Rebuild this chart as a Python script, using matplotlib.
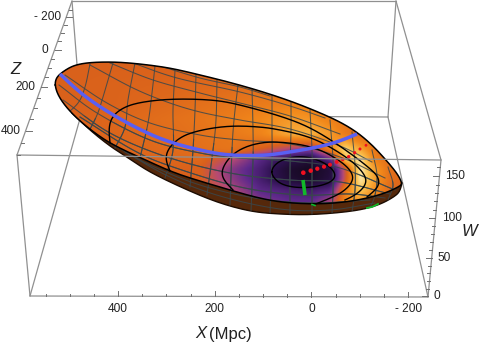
import numpy as np
import matplotlib
matplotlib.use("Agg")
import matplotlib.pyplot as plt
from matplotlib.colors import LinearSegmentedColormap
from matplotlib.patches import Polygon

plt.rcParams['font.family'] = ['Liberation Sans', 'DejaVu Sans']

# Everything below was read off the picture, the chart is a fixed 3D view so
# curves are kept as they appear on screen (x right, y down, in pixels).

# box
box_top_back = [(72, 1), (396, 1)]
box_top_front = [(17, 155), (441, 160)]
box_bot_back = [(81, 115), (388, 117)]
box_bot_front = [(30, 296), (428, 297)]

# axis ticks
x_major = [400, 200, 0, -200]
x_minor = [550, 500, 450, 350, 300, 250, 150, 100, 50, -50, -100, -150]
x_major_px = [118, 215, 311.5, 408]
z_major = [-200, 0, 200, 400]
z_minor = [-250, -150, -100, -50, 50, 100, 150, 250, 300, 350, 450, 500]
z_major_py = [17, 50, 87, 131]
w_major = [0, 50, 100, 150]
w_minor = [10, 20, 30, 40, 60, 70, 80, 90, 110, 120, 130, 140, 160]
w_major_py = [296, 258, 218, 176]

# surface outline
rim_top_x = [55, 56, 60, 68, 76, 90, 115, 140, 170, 200, 240, 285, 318, 340, 358, 373, 385, 396, 402]
rim_top_y = [85, 79, 74, 68.5, 65, 62.5, 62, 64, 68, 75, 85, 99, 112, 122, 133, 146, 159, 172, 183]
rim_low_x = [402, 398, 380, 347, 313, 280, 255, 230, 193, 170, 150, 130, 110, 95, 80, 67, 58, 55]
rim_low_y = [183, 187, 195, 202, 204, 202, 197, 190, 179, 171, 162, 153, 143, 133, 121, 108, 95, 85]
band_x = [402, 400, 395, 378, 353, 313, 280, 250, 217, 183, 150, 130, 110, 90, 72]
band_y = [183, 190, 196, 205, 211, 214.5, 214, 211, 202, 188, 172, 159, 146, 130, 113]

# height contours
c1_x = [270, 279, 302, 325, 336, 327, 303, 280]
c1_y = [172, 161, 156, 163, 175, 184, 188, 184]
c2_x = [233, 224, 222, 230, 243, 260, 280, 313, 337, 350, 353, 345, 333, 313]
c2_y = [190, 180, 170, 157, 148, 143, 142, 147, 159, 170, 180, 190, 197, 205]
c3_x = [170, 166, 168, 177, 193, 227, 260, 280, 313, 343, 358, 366, 364, 355, 345]
c3_y = [171, 160, 150, 140, 132, 126, 127, 130, 138, 155, 167, 178, 187, 195, 200]
c4_x = [110, 109, 113, 125, 143, 173, 213, 240, 280, 313, 347, 368, 378, 378, 367]
c4_y = [143, 128, 116, 107, 102, 99, 100, 105, 116, 129, 151, 167, 177, 187, 197]

# blue curve, red and green points
blue_x = [60, 83, 113, 147, 173, 200, 227, 260, 280, 313, 337, 357]
blue_y = [74, 95, 115, 133, 143, 150, 155, 155.5, 153.5, 148, 142, 134]
red_x = [303.3, 310.7, 317.3, 324, 330, 336.7, 342.7, 348.7, 354.7, 360, 366]
red_y = [172.7, 170.7, 168.7, 166.7, 164.7, 162, 159.3, 156.7, 152.7, 149, 145.3]
green_x = [303, 305]
green_y = [180, 195]
green2_x = [367, 372, 378]
green2_y = [208, 207, 204]
green3_x = [312, 315]
green3_y = [204.5, 205.5]

# mesh lines, near vertical family
mesh_a = [
    [(90, 64), (85, 87), (78, 103), (63, 117)],
    [(113, 63), (103, 97), (97, 115), (87, 135)],
    [(135, 63), (128, 100), (125, 127), (115, 148)],
    [(155, 66), (152, 93), (148, 123), (140, 158)],
    [(175, 70), (173, 110), (173, 150), (165, 178)],
    [(196, 74), (195, 110), (193, 150), (190, 187)],
    [(217, 80), (216, 120), (213, 150), (207, 195)],
    [(238, 85), (234, 120), (232, 150), (230, 205)],
    [(252, 88), (253, 130), (253, 160), (251, 212)],
    [(272, 94), (272, 130), (272, 160), (270, 214)],
    [(291, 102), (291, 130), (290, 170), (290, 215)],
    [(310, 110), (312, 150), (312, 175), (312, 215)],
    [(330, 120), (333, 160), (333, 190), (332, 214)],
    [(352, 132), (355, 165), (355, 190), (352, 212)],
    [(372, 150), (377, 175), (375, 195), (370, 208)],
    [(388, 167), (393, 185), (388, 200)],
]
# mesh lines, slanted family
mesh_b = [
    [(157, 65), (200, 78), (240, 87), (270, 96)],
    [(133, 63), (177, 78), (240, 92), (290, 106), (325, 118)],
    [(110, 63), (153, 80), (200, 93), (240, 103), (290, 116), (340, 134)],
    [(90, 65), (133, 88), (167, 102), (200, 112), (240, 120), (290, 129), (340, 146), (372, 162)],
    [(65, 75), (107, 103), (150, 123), (200, 135), (240, 140), (290, 144), (340, 157), (385, 178)],
    [(59, 85), (97, 113), (150, 140), (200, 153), (240, 158), (290, 161), (340, 168), (395, 190)],
    [(63, 100), (110, 133), (167, 157), (230, 173), (290, 180), (340, 182), (390, 194)],
    [(80, 117), (133, 150), (173, 167), (240, 187), (300, 195), (350, 194), (385, 198)],
    [(110, 143), (150, 165), (200, 185), (255, 198), (310, 203), (370, 200)],
    [(125, 152), (170, 177), (220, 196), (280, 209), (330, 210), (375, 203)],
]

# colour level of the surface sampled on a coarse screen grid
field_x = [50, 110, 170, 200, 230, 260, 290, 310, 330, 345, 360, 375, 390, 410]
field_y = [60, 85, 105, 120, 135, 150, 160, 170, 180, 190, 200, 215]
field = [
    [.60, .60, .60, .60, .60, .60, .60, .60, .60, .60, .60, .60, .60, .60],
    [.60, .61, .62, .63, .64, .65, .66, .66, .64, .62, .60, .60, .60, .60],
    [.60, .61, .64, .66, .68, .70, .72, .72, .68, .64, .62, .60, .60, .60],
    [.60, .62, .66, .68, .71, .75, .79, .78, .72, .68, .64, .62, .60, .60],
    [.60, .62, .65, .67, .69, .73, .84, .86, .80, .70, .64, .62, .60, .60],
    [.60, .62, .64, .66, .68, .60, .48, .44, .74, .96, .82, .68, .62, .60],
    [.60, .60, .62, .63, .52, .33, .18, .12, .35, .90, .98, .72, .64, .60],
    [.60, .60, .61, .60, .42, .28, .08, .03, .12, .56, 1.0, .80, .66, .60],
    [.60, .60, .60, .60, .44, .28, .10, .05, .14, .56, 1.0, .80, .66, .60],
    [.60, .60, .60, .60, .50, .33, .28, .25, .30, .72, .92, .76, .64, .60],
    [.60, .60, .60, .60, .54, .40, .34, .33, .45, .74, .80, .72, .62, .60],
    [.60, .60, .60, .60, .55, .45, .40, .42, .55, .72, .76, .70, .60, .60],
]

EDGE = '#909090'
TICK = '#707070'
TXT = '#222222'
surf_cmap = LinearSegmentedColormap.from_list('surf', [
    (0.0, '#120818'), (0.2, '#2e1250'), (0.35, '#5f2a8c'), (0.5, '#b54a74'),
    (0.6, '#d9601c'), (0.75, '#f2881a'), (0.9, '#fbc350'), (1.0, '#fdeab0')])


def soften(path, win, closed=False):
    # moving average along the curve to take out reading wobble
    if win < 3:
        return path
    kernel = np.hanning(win + 2)[1:-1]
    kernel /= kernel.sum()
    k = win // 2
    out = []
    for j in range(2):
        c = path[:, j]
        if closed:
            padded = np.r_[c[-k:], c, c[:k]]
        else:
            padded = np.r_[2 * c[0] - c[k:0:-1], c, 2 * c[-1] - c[-2:-k - 2:-1]]
        out.append(np.convolve(padded, kernel, mode='valid'))
    return np.column_stack(out)


def smooth(pts, n=12):
    # catmull-rom through the read points
    pts = np.array(pts, dtype=float)
    p = np.vstack([2 * pts[0] - pts[1], pts, 2 * pts[-1] - pts[-2]])
    out = []
    for i in range(1, len(p) - 2):
        t = np.linspace(0, 1, n, endpoint=False)[:, None]
        a, b, c, d = p[i - 1], p[i], p[i + 1], p[i + 2]
        out.append(0.5 * (2 * b + (c - a) * t + (2 * a - 5 * b + 4 * c - d) * t ** 2
                          + (3 * b - a - 3 * c + d) * t ** 3))
    out.append(pts[-1:])
    return np.vstack(out)


def curve(xs, ys, win=21):
    return soften(smooth(list(zip(xs, ys))), win)


def upsample(xs, ys, values):
    # fine grid for the colour field, one value per pixel
    gx, gy = np.arange(0, 480), np.arange(0, 345)
    vals = np.array(values)
    rows = np.array([np.interp(gx, xs, r) for r in vals])
    fine = np.array([np.interp(gy, ys, rows[:, j]) for j in range(len(gx))]).T
    # blur a little, the coarse cells should not show
    kx = np.hanning(9) / np.hanning(9).sum()
    ky = np.hanning(9) / np.hanning(9).sum()
    fine = np.apply_along_axis(lambda r: np.convolve(np.pad(r, 4, mode='edge'), kx, mode='valid'), 1, fine)
    fine = np.apply_along_axis(lambda r: np.convolve(np.pad(r, 4, mode='edge'), ky, mode='valid'), 0, fine)
    return fine


fig = plt.figure(figsize=(4.8, 3.45), dpi=100)
ax = fig.add_axes([0, 0, 1, 1])
ax.set_xlim(0, 480)
ax.set_ylim(345, 0)
ax.axis('off')


def edge(a, b, z=1):
    ax.plot([a[0], b[0]], [a[1], b[1]], color=EDGE, lw=0.9, zorder=z, solid_capstyle='round')


# back of the box
edge(box_top_back[0], box_top_back[1])
edge(box_top_back[0], box_bot_back[0])
edge(box_top_back[1], box_bot_back[1])
edge(box_bot_back[0], box_bot_back[1])
edge(box_bot_back[0], box_bot_front[0])
edge(box_bot_back[1], box_bot_front[1])

# surface
rim_pts = np.array(list(zip(rim_top_x, rim_top_y)) + list(zip(rim_low_x, rim_low_y))[1:-1], dtype=float)
rim = soften(smooth(np.vstack([rim_pts, rim_pts[:1]]), n=8), 15, closed=True)
band = curve(band_x, band_y, 15)

ax.add_patch(Polygon(band, closed=True, fc='#55280b', ec='none', zorder=2))
ax.add_patch(Polygon(rim, closed=True, fc='#55280b', ec='none', zorder=2))
ax.plot(band[:, 0], band[:, 1], color='#1c0c02', lw=1.0, zorder=2.1)

img = ax.imshow(upsample(field_x, field_y, field), extent=(-0.5, 479.5, 344.5, -0.5),
                cmap=surf_cmap, vmin=0, vmax=1, interpolation='bilinear', aspect='auto', zorder=3)
img.set_clip_path(Polygon(rim, closed=True, transform=ax.transData))
ax.set_xlim(0, 480)
ax.set_ylim(345, 0)

# mesh, drawn once over the top face and once over the brown band
clip_rim = Polygon(rim, closed=True, transform=ax.transData)
clip_band = Polygon(band, closed=True, transform=ax.transData)
for line in mesh_a + mesh_b:
    s = smooth(line)
    for clip in (clip_rim, clip_band):
        l, = ax.plot(s[:, 0], s[:, 1], color='#39474c', lw=0.75, alpha=0.85, zorder=4)
        l.set_clip_path(clip)

for cx, cy in [(c2_x, c2_y), (c3_x, c3_y), (c4_x, c4_y)]:
    s = curve(cx, cy)
    ax.plot(s[:, 0], s[:, 1], color='black', lw=1.0, zorder=5)
s = soften(smooth(list(zip(c1_x + c1_x[:1], c1_y + c1_y[:1]))), 21, closed=True)
s = np.vstack([s, s[:1]])
ax.plot(s[:, 0], s[:, 1], color='black', lw=1.0, zorder=5)
closed_rim = np.vstack([rim, rim[:1]])
ax.plot(closed_rim[:, 0], closed_rim[:, 1], color='black', lw=1.1, zorder=5)

s = curve(blue_x, blue_y)
ax.plot(s[:, 0], s[:, 1], color='#5a5ff2', lw=2.5, zorder=6, solid_capstyle='butt')
red_size = np.linspace(11, 4, len(red_x))
ax.scatter(red_x, red_y, s=red_size, color='#f01020', marker='o', linewidths=0, zorder=7)
ax.plot(green_x, green_y, color='#12b82a', lw=2.6, zorder=7, solid_capstyle='butt')
ax.plot(green2_x, green2_y, color='#12b82a', lw=1.3, zorder=7)
ax.plot(green3_x, green3_y, color='#12b82a', lw=1.2, zorder=7)

# front of the box
edge(box_top_front[0], box_top_front[1], 8)
edge(box_top_front[0], box_bot_front[0], 8)
edge(box_top_front[1], box_bot_front[1], 8)
edge(box_bot_front[0], box_bot_front[1], 8)
edge(box_top_front[0], box_top_back[0], 8)
edge(box_top_front[1], box_top_back[1], 8)

# axis scales from the read tick positions
x_fit = np.polyfit(x_major, x_major_px, 1)
z_fit = np.polyfit(z_major, z_major_py, 2)
w_fit = np.polyfit(w_major, w_major_py, 2)


def on_edge_x(py, a, b):
    return a[0] + (py - a[1]) * (b[0] - a[0]) / (b[1] - a[1])


def on_edge_y(px, a, b):
    return a[1] + (px - a[0]) * (b[1] - a[1]) / (b[0] - a[0])


for vals, ln in [(x_major, 5), (x_minor, 2.5)]:
    for v in vals:
        px = np.polyval(x_fit, v)
        py = on_edge_y(px, box_bot_front[0], box_bot_front[1])
        ax.plot([px, px], [py, py - ln], color=TICK, lw=0.7, zorder=8)
for vals, ln in [(z_major, 6), (z_minor, 3)]:
    for v in vals:
        py = np.polyval(z_fit, v)
        px = on_edge_x(py, box_top_front[0], box_top_back[0])
        ax.plot([px, px + ln], [py, py], color=TICK, lw=0.7, zorder=8)
for vals, ln in [(w_major, 6), (w_minor, 3)]:
    for v in vals:
        py = np.polyval(w_fit, v)
        px = on_edge_x(py, box_bot_front[1], box_top_front[1])
        ax.plot([px - ln, px], [py, py], color=TICK, lw=0.7, zorder=8)

# labels
fs = 8.6
for v, t in zip(x_major, ['400', '200', '0', '- 200']):
    ax.text(np.polyval(x_fit, v), 309, t, ha='center', va='center', fontsize=fs, color=TXT)
for v, t, xr in zip(z_major, ['- 200', '0', '200', '400'], [60.5, 48, 35, 20.5]):
    ax.text(xr, np.polyval(z_fit, v), t, ha='right', va='center', fontsize=fs, color=TXT)
for v, t, xl in zip(w_major, ['0', '50', '100', '150'], [433, 437, 442, 445]):
    ax.text(xl, np.polyval(w_fit, v), t, ha='left', va='center', fontsize=fs, color=TXT)

ax.text(15.5, 69, 'Z', style='italic', ha='center', va='center', fontsize=12, color=TXT)
ax.text(469.5, 232, 'W', style='italic', ha='center', va='center', fontsize=12, color=TXT)
ax.text(200.5, 334, 'X', style='italic', ha='center', va='center', fontsize=12, color=TXT)
ax.text(209.5, 334, '(Mpc)', ha='left', va='center', fontsize=12, color=TXT)

fig.savefig('out.png', dpi=100)
